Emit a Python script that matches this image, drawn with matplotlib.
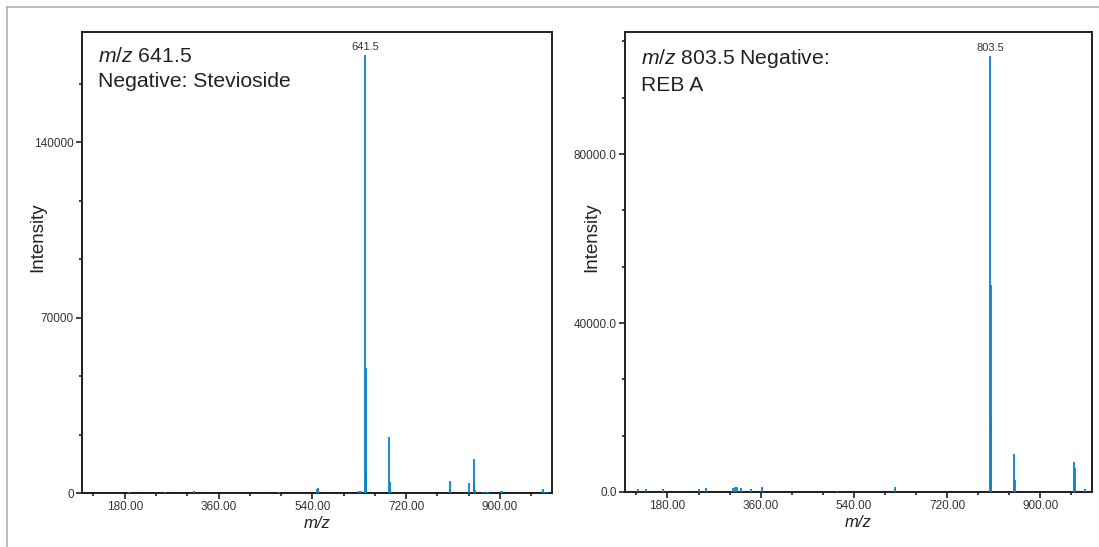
import matplotlib
matplotlib.use("Agg")
import matplotlib.pyplot as plt
from matplotlib.ticker import MultipleLocator, FixedLocator, FuncFormatter
from matplotlib.lines import Line2D

plt.rcParams['font.family'] = ['Liberation Sans', 'DejaVu Sans']
plt.rcParams['mathtext.fontset'] = 'custom'
plt.rcParams['mathtext.rm'] = 'Liberation Sans'
plt.rcParams['mathtext.it'] = 'Liberation Sans:italic'

# Stevioside spectrum, m/z 641.5 negative mode
stev_mz = [188, 257, 313, 476, 549, 551, 630, 633, 641.5, 642.5, 643.5,
           687.5, 688.5, 689.5, 803.5, 804.5, 840, 849.5, 850.5, 851.5,
           868, 873, 878, 903, 905, 982, 985, 990]
stev_int = [500, 300, 800, 400, 1500, 2000, 800, 700, 175000, 50000, 10000,
            22300, 4500, 1500, 4800, 1000, 4000, 13600, 4400, 1200,
            400, 500, 400, 800, 600, 1600, 500, 500]

# Rebaudioside A spectrum, m/z 803.5 negative mode
reba_mz = [124, 139, 172, 240, 255, 307, 311, 314, 322, 341, 363, 508, 619,
           803.5, 804.5, 805.5, 849.5, 850.5, 965.5, 966.5, 967.5, 986]
reba_int = [700, 700, 600, 700, 900, 1000, 1200, 1100, 900, 600, 1200, 300, 1300,
            103300, 49000, 17500, 9000, 2800, 7100, 5700, 1200, 700]

blue = '#0a84c6'
dark = '#231f20'

fig = plt.figure(figsize=(10.99, 5.47), dpi=100)

# light grey frame round the figure
fig.add_artist(Line2D([7/1099, 7/1099], [0, 1 - 7/547], color='#b0b0b0', lw=1.2,
                      transform=fig.transFigure))
fig.add_artist(Line2D([7/1099, 1], [1 - 7/547, 1 - 7/547], color='#b0b0b0', lw=1.2,
                      transform=fig.transFigure))

ax1 = fig.add_axes([82/1099, 1 - 493/547, 470/1099, 461/547])
ax2 = fig.add_axes([625/1099, 1 - 492/547, 467/1099, 460/547])


def style_axis(ax, ymax, ymajor, yfmt, ylab_x):
    ax.set_xlim(98, 1000)
    ax.set_ylim(0, ymax)
    for s in ax.spines.values():
        s.set_color(dark)
        s.set_linewidth(1.4)
    ax.xaxis.set_major_locator(FixedLocator([180, 360, 540, 720, 900]))
    ax.xaxis.set_minor_locator(MultipleLocator(60))
    ax.xaxis.set_major_formatter(FuncFormatter(lambda v, p: '%.2f' % v))
    ax.yaxis.set_major_locator(MultipleLocator(ymajor))
    ax.yaxis.set_minor_locator(MultipleLocator(ymajor / 3))
    ax.yaxis.set_major_formatter(FuncFormatter(yfmt))
    ax.tick_params(which='major', length=4, width=1.2, color=dark,
                   labelsize=8.5, labelcolor='#333333', pad=2)
    ax.tick_params(which='minor', length=2.5, width=1.2, color=dark)
    ax.set_ylabel('Intensity', fontsize=13.5, color='#222222')
    ax.yaxis.set_label_coords(ylab_x, 0.555)
    ax.set_xlabel('m/z', fontsize=12, style='italic', color='#222222', labelpad=2)


style_axis(ax1, 184000, 70000, lambda v, p: '%d' % v, -0.077)
style_axis(ax2, 108900, 40000, lambda v, p: '%.1f' % v, -0.052)

for ax, mz, inten in [(ax1, stev_mz, stev_int), (ax2, reba_mz, reba_int)]:
    ax.axhline(0, color=blue, lw=2.2, zorder=2)
    ax.vlines(mz, 0, inten, color=blue, lw=1.3, zorder=3)
    top = inten.index(max(inten))
    ax.annotate('%.1f' % mz[top], (mz[top], inten[top]), xytext=(0, 2),
                textcoords='offset points', ha='center', va='bottom',
                fontsize=8, color='#333333')

ax1.text(0.035, 0.968, '$m/z$ 641.5\nNegative: Stevioside', transform=ax1.transAxes,
         ha='left', va='top', fontsize=15.2, color='#222222', linespacing=1.4)
ax2.text(0.035, 0.968, '$m/z$ 803.5 Negative:\nREB A', transform=ax2.transAxes,
         ha='left', va='top', fontsize=15.2, color='#222222', linespacing=1.4)

fig.savefig('out.png', dpi=100)
